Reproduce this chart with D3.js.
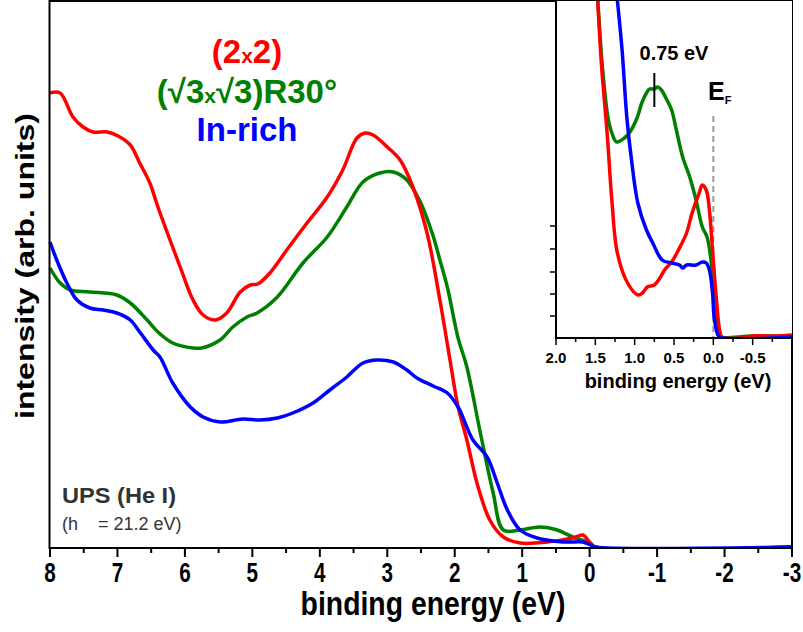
<!DOCTYPE html>
<html>
<head>
<meta charset="utf-8">
<script src="https://cdn.jsdelivr.net/npm/d3@7"></script>
<style>
  body { margin: 0; background: #fff; }
  svg { display: block; font-family: "Liberation Sans", Arial, sans-serif; }
</style>
</head>
<body>
<div id="chart"></div>
<script>
// main panel: [binding energy (eV), intensity (arb. units)]
var red2x2 = [[8.00,455],[7.85,455],[7.66,431],[7.51,421],[7.36,416],[7.15,416],[6.99,412],[6.81,403],[6.67,385],[6.52,365],[6.40,341],
  [6.07,281],[5.88,248],[5.73,233],[5.55,228],[5.38,235],[5.18,256],[5.03,263],[4.92,264],[4.74,275],[4.49,298],[4.19,325],[3.89,351],
  [3.66,378],[3.45,410],[3.33,415],[3.21,413],[3.00,401],[2.81,388],[2.62,361],[2.41,315],[2.22,248],[2.07,188],[1.95,141],[1.82,108],
  [1.67,65],[1.48,28],[1.28,11],[1.03,5],[0.63,6],[0.25,10],[0.10,13],[-0.01,5],[-0.08,1],[-3.0,1]];
var greenR30 = [[8.00,280],[7.85,265],[7.70,258],[7.41,256],[7.01,253],[6.81,245],[6.56,228],[6.40,216],[6.18,205],[5.88,200],[5.75,200],
  [5.48,208],[5.29,221],[5.08,231],[4.93,235],[4.63,251],[4.25,285],[3.89,311],[3.60,341],[3.36,366],[3.11,375],[2.91,376],[2.71,368],
  [2.51,346],[2.32,312],[2.22,288],[2.11,261],[1.95,210],[1.82,181],[1.62,115],[1.43,55],[1.28,18],[1.03,18],[0.74,21],[0.48,18],
  [0.25,11],[-0.01,5],[-0.08,1],[-3.0,1]];
var blueInRich = [[8.00,306],[7.90,288],[7.75,265],[7.60,248],[7.41,240],[7.21,238],[7.01,235],[6.81,228],[6.67,216],[6.47,198],[6.37,191],
  [6.18,165],[5.92,141],[5.73,131],[5.48,126],[5.14,129],[4.89,128],[4.63,130],[4.40,135],[4.10,145],[3.85,158],[3.60,171],[3.36,185],
  [3.15,188],[2.91,186],[2.71,178],[2.56,170],[2.32,162],[2.11,155],[1.95,141],[1.73,108],[1.52,91],[1.37,65],[1.22,38],[1.03,18],
  [0.78,10],[0.39,6],[0.10,6],[-0.01,3],[-0.08,1],[-3.0,1]];

// inset: near the Fermi edge
var redInset = [[1.50,380],[1.47,338],[1.42,271],[1.35,205],[1.29,138],[1.22,85],[1.09,55],[0.96,43],[0.90,45],[0.84,51],[0.75,53],
  [0.68,60],[0.62,68],[0.53,76],[0.43,90],[0.34,105],[0.27,125],[0.18,145],[0.14,153],[0.09,148],[0.05,128],[0.01,88],[-0.04,38],
  [-0.08,8],[-0.11,1],[-0.35,0],[-0.5,2],[-0.8,2],[-1.0,3]];
var greenInset = [[1.50,370],[1.47,338],[1.41,271],[1.34,221],[1.29,205],[1.23,196],[1.13,200],[1.06,206],[0.97,220],[0.91,235],[0.85,245],
  [0.81,249],[0.75,249],[0.71,251],[0.66,248],[0.59,238],[0.53,228],[0.47,208],[0.39,181],[0.30,161],[0.22,138],[0.14,111],[0.08,101],
  [0.03,78],[-0.01,38],[-0.05,5],[-0.08,1],[-0.5,2],[-1.0,2]];
var blueInset = [[1.26,370],[1.22,338],[1.16,288],[1.10,221],[1.04,178],[0.96,135],[0.85,108],[0.77,95],[0.65,78],[0.53,75],[0.43,73],
  [0.39,70],[0.34,73],[0.22,73],[0.14,76],[0.09,75],[0.05,68],[0.01,45],[-0.01,21],[-0.05,5],[-0.08,1],[-1.0,1]];

var mainTicks = [8, 7, 6, 5, 4, 3, 2, 1, 0, -1, -2, -3];
var insetTicks = [2.0, 1.5, 1.0, 0.5, 0.0, -0.5];
var insetYTicks = [22, 44, 66, 89, 112];
var peakPos = 0.75;

var colors = { red: "#ff0000", green: "#008000", blue: "#0000ff" };

var width = 803, height = 632;
var svg = d3.select("#chart").append("svg")
    .attr("width", width)
    .attr("height", height);

// scales for main panel
var x = d3.scaleLinear().domain([8, -3]).range([50, 792]);
var y = d3.scaleLinear().domain([0, 547]).range([548, 1]);

var line = d3.line()
    .x(function (d) { return x(d[0]); })
    .y(function (d) { return y(d[1]); })
    .curve(d3.curveCatmullRom.alpha(0.5));

svg.append("clipPath").attr("id", "mainClip")
  .append("rect").attr("x", 46).attr("y", 1).attr("width", 747).attr("height", 548);

var main = svg.append("g").attr("clip-path", "url(#mainClip)");
[[greenR30, colors.green], [red2x2, colors.red], [blueInRich, colors.blue]].forEach(function (s) {
  main.append("path")
      .datum(s[0])
      .attr("fill", "none")
      .attr("stroke", s[1])
      .attr("stroke-width", 3.5)
      .attr("stroke-linejoin", "round")
      .attr("d", line);
});

// frame
svg.append("rect")
    .attr("x", 49.5).attr("y", 1).attr("width", 742.5).attr("height", 547)
    .attr("fill", "none").attr("stroke", "#000").attr("stroke-width", 2);

// bottom axis
var xAxis = svg.append("g").attr("transform", "translate(0,548)");
xAxis.selectAll(".major").data(mainTicks).enter().append("line")
    .attr("x1", function (d) { return x(d); }).attr("x2", function (d) { return x(d); })
    .attr("y1", 0).attr("y2", 9).attr("stroke", "#000").attr("stroke-width", 2);
xAxis.selectAll(".minor").data(d3.range(7.5, -3, -1)).enter().append("line")
    .attr("x1", function (d) { return x(d); }).attr("x2", function (d) { return x(d); })
    .attr("y1", 0).attr("y2", 5).attr("stroke", "#000").attr("stroke-width", 2);
// condensed bold labels (narrow font is not installed, squeeze horizontally)
xAxis.selectAll("text").data(mainTicks).enter().append("text")
    .attr("transform", function (d) { return "translate(" + x(d) + ",34) scale(0.74,1)"; })
    .attr("text-anchor", "middle")
    .attr("font-size", 28)
    .attr("font-weight", "bold")
    .text(function (d) { return d; });

svg.append("text")
    .attr("transform", "translate(433,615) scale(0.86,1)")
    .attr("text-anchor", "middle")
    .attr("font-size", 33)
    .attr("font-weight", "bold")
    .text("binding energy (eV)");

svg.append("text")
    .attr("transform", "translate(34,266) rotate(-90)")
    .attr("text-anchor", "middle")
    .attr("font-size", 26)
    .attr("font-weight", "bold")
    .attr("textLength", 306)
    .attr("lengthAdjust", "spacingAndGlyphs")
    .text("intensity (arb. units)");

// legend
var legend = svg.append("g").attr("font-weight", "bold").attr("text-anchor", "middle");
var l1 = legend.append("text").attr("x", 247).attr("y", 63).attr("font-size", 33).attr("fill", colors.red);
l1.append("tspan").text("(2");
l1.append("tspan").attr("font-size", 21).text("x");
l1.append("tspan").text("2)");
var l2 = legend.append("text").attr("x", 247).attr("y", 103).attr("font-size", 33).attr("fill", colors.green);
l2.append("tspan").text("(√3");
l2.append("tspan").attr("font-size", 21).text("x");
l2.append("tspan").text("√3)R30°");
legend.append("text").attr("x", 247).attr("y", 141).attr("font-size", 33).attr("fill", colors.blue).text("In-rich");

// source note
svg.append("text").attr("x", 62).attr("y", 503).attr("font-size", 22).attr("font-weight", "bold")
    .attr("fill", "#333").attr("textLength", 114).attr("lengthAdjust", "spacingAndGlyphs").text("UPS (He I)");
svg.append("text").attr("x", 62).attr("y", 530).attr("font-size", 18)
    .attr("fill", "#333").attr("xml:space", "preserve").text("(h    = 21.2 eV)");

// inset
var xi = d3.scaleLinear().domain([2, -1]).range([556, 792]);
var yi = d3.scaleLinear().domain([0, 338]).range([338, 0]);

var inset = svg.append("g");
inset.append("rect").attr("x", 556).attr("y", 1).attr("width", 236).attr("height", 337).attr("fill", "#fff");

svg.append("clipPath").attr("id", "insetClip")
  .append("rect").attr("x", 556).attr("y", 1).attr("width", 237).attr("height", 338);

var iline = d3.line()
    .x(function (d) { return xi(d[0]); })
    .y(function (d) { return yi(d[1]); })
    .curve(d3.curveCatmullRom.alpha(0.5));

// Fermi level marker
inset.append("line")
    .attr("x1", xi(0)).attr("x2", xi(0)).attr("y1", 116).attr("y2", 338)
    .attr("stroke", "#999").attr("stroke-width", 2).attr("stroke-dasharray", "6,4");

var icurves = inset.append("g").attr("clip-path", "url(#insetClip)");
[[greenInset, colors.green], [redInset, colors.red], [blueInset, colors.blue]].forEach(function (s) {
  icurves.append("path")
      .datum(s[0])
      .attr("fill", "none")
      .attr("stroke", s[1])
      .attr("stroke-width", 3.5)
      .attr("stroke-linejoin", "round")
      .attr("d", iline);
});

inset.append("line")
    .attr("x1", 556).attr("x2", 556).attr("y1", 0).attr("y2", 339)
    .attr("stroke", "#000").attr("stroke-width", 2);
inset.append("line")
    .attr("x1", 555).attr("x2", 793).attr("y1", 338).attr("y2", 338)
    .attr("stroke", "#000").attr("stroke-width", 2);

// small ticks on inset left axis
inset.selectAll(".ytick").data(insetYTicks).enter().append("line")
    .attr("x1", 550).attr("x2", 556)
    .attr("y1", function (d) { return yi(d); }).attr("y2", function (d) { return yi(d); })
    .attr("stroke", "#000").attr("stroke-width", 1.5);

inset.selectAll(".imajor").data(insetTicks.concat([-1.0])).enter().append("line")
    .attr("x1", function (d) { return xi(d); }).attr("x2", function (d) { return xi(d); })
    .attr("y1", 338).attr("y2", 345).attr("stroke", "#000").attr("stroke-width", 1.5);
inset.selectAll(".iminor").data(d3.range(1.75, -1, -0.5)).enter().append("line")
    .attr("x1", function (d) { return xi(d); }).attr("x2", function (d) { return xi(d); })
    .attr("y1", 338).attr("y2", 342).attr("stroke", "#000").attr("stroke-width", 1.5);
inset.selectAll(".ilabel").data(insetTicks).enter().append("text")
    .attr("x", function (d) { return xi(d); })
    .attr("y", 363)
    .attr("text-anchor", "middle")
    .attr("font-size", 15)
    .attr("font-weight", "bold")
    .text(function (d) { return d3.format(".1f")(d).replace("−", "-"); });
inset.append("text")
    .attr("x", 678).attr("y", 388)
    .attr("text-anchor", "middle")
    .attr("font-size", 20)
    .attr("font-weight", "bold")
    .text("binding energy (eV)");

// peak annotation
inset.append("line")
    .attr("x1", xi(peakPos)).attr("x2", xi(peakPos)).attr("y1", 73).attr("y2", 107)
    .attr("stroke", "#000").attr("stroke-width", 2);
inset.append("text")
    .attr("x", 674).attr("y", 60)
    .attr("text-anchor", "middle")
    .attr("font-size", 20)
    .attr("font-weight", "bold")
    .text("0.75 eV");
var ef = inset.append("text").attr("x", 708).attr("y", 100).attr("font-weight", "bold").attr("font-size", 25);
ef.append("tspan").text("E");
ef.append("tspan").attr("font-size", 11).attr("dy", 4).text("F");
</script>
</body>
</html>
